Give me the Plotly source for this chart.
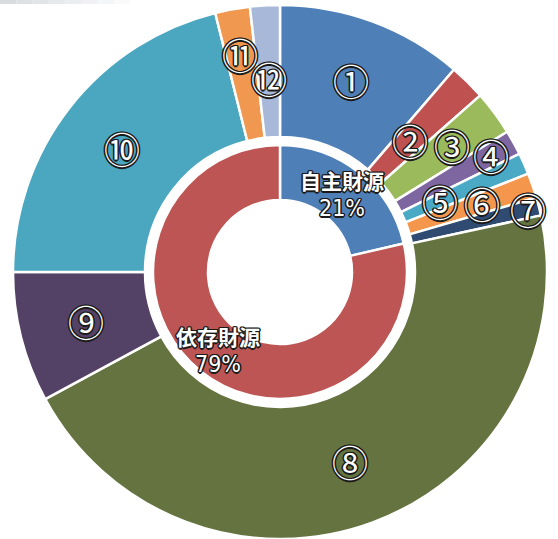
import math
import plotly.graph_objects as go

# ---- data ----
outer_labels = ["①", "②", "③", "④", "⑤", "⑥", "⑦", "⑧", "⑨", "⑩", "⑪", "⑫"]
outer_values = [11.3, 2.2, 2.7, 1.5, 1.3, 1.5, 1.1, 45.5, 7.9, 21.1, 2.1, 1.8]
inner_labels = ["自主財源", "依存財源"]
inner_values = [21.4, 78.6]

# ---- style ----
outer_colors = ["#4F7FB7", "#BF5250", "#9BBA5C", "#7E66A0", "#4AAAC5", "#F4974C",
                "#2F4B72", "#64733F", "#534265", "#4BA6C0", "#F0984F", "#A8B8D8"]
inner_colors = ["#4F7FB7", "#BC5553"]
outer_label_radius = [205, 185, 214, 241, 175, 214, 256, 202, 200, 201, 222, 194]
inner_label_radius = 100

W, H = 558, 539
CX, CY = 280, 272          # pie centre in pixels (from top-left)
R_OUT, R_IN = 267, 127
HOLE_OUT = 135 / R_OUT
HOLE_IN = 72 / R_IN

c = "#1a1a1a"
outline = ", ".join(f"{dx}px {dy}px 0 {c}" for dx, dy in
                    [(1, 1), (-1, -1), (1, -1), (-1, 1), (0, 1.5), (1.5, 0), (0, -1.5), (-1.5, 0)])

fig = go.Figure()
fig.add_trace(go.Pie(
    labels=outer_labels, values=outer_values, sort=False, direction="clockwise",
    rotation=0, hole=HOLE_OUT,
    marker=dict(colors=outer_colors, line=dict(color="white", width=2.5)),
    textinfo="none", hoverinfo="label+percent", showlegend=False,
    domain=dict(x=[(CX - R_OUT) / W, (CX + R_OUT) / W],
                y=[1 - (CY + R_OUT) / H, 1 - (CY - R_OUT) / H]),
))
fig.add_trace(go.Pie(
    labels=inner_labels, values=inner_values, sort=False, direction="clockwise",
    rotation=0, hole=HOLE_IN,
    marker=dict(colors=inner_colors, line=dict(color="white", width=2.5)),
    textinfo="none", hoverinfo="label+percent", showlegend=False,
    domain=dict(x=[(CX - R_IN) / W, (CX + R_IN) / W],
                y=[1 - (CY + R_IN) / H, 1 - (CY - R_IN) / H]),
))


def mid_angles(values):
    total = sum(values)
    out, acc = [], 0.0
    for v in values:
        out.append((acc + v / 2) / total * 2 * math.pi)
        acc += v
    return out


def to_paper(theta, r):
    px = CX + r * math.sin(theta)
    py = CY - r * math.cos(theta)
    return px / W, 1 - py / H


annotations = []
for lab, th, r in zip(outer_labels, mid_angles(outer_values), outer_label_radius):
    x, y = to_paper(th, r)
    annotations.append(dict(
        x=x, y=y, xref="paper", yref="paper", text=lab, showarrow=False,
        xanchor="center", yanchor="middle",
        font=dict(family="Noto Sans CJK JP", size=36, color="white", shadow=outline),
    ))

total_in = sum(inner_values)
for lab, v, th in zip(inner_labels, inner_values, mid_angles(inner_values)):
    x, y = to_paper(th, inner_label_radius)
    annotations.append(dict(
        x=x, y=y, xref="paper", yref="paper", text=lab, showarrow=False, yshift=14,
        xanchor="center", yanchor="middle",
        font=dict(family="Noto Sans CJK JP", size=21, color="white", shadow=outline,
                  weight="bold"),
    ))
    annotations.append(dict(
        x=x, y=y, xref="paper", yref="paper", text=f"{round(v / total_in * 100)}%",
        showarrow=False, yshift=-14, xanchor="center", yanchor="middle",
        font=dict(family="DejaVu Sans Condensed, DejaVu Sans, sans-serif", size=23,
                  color="white", shadow=outline),
    ))

# faint grey strip at the top-left edge of the scan
shapes = []
steps = 8
for i in range(steps):
    shapes.append(dict(type="rect", xref="paper", yref="paper",
                       x0=i * 130 / steps / W, x1=(i + 1) * 130 / steps / W,
                       y0=1 - 4 / H, y1=1, line=dict(width=0),
                       fillcolor="#d9dbde", opacity=1 - i / steps, layer="below"))

fig.update_layout(
    width=W, height=H, margin=dict(l=0, r=0, t=0, b=0, pad=0),
    paper_bgcolor="white", plot_bgcolor="white",
    annotations=annotations, shapes=shapes,
)
fig.write_html("out.html", config={"displayModeBar": False},
               post_script="document.body.style.margin='0';document.body.style.overflow='hidden';")
